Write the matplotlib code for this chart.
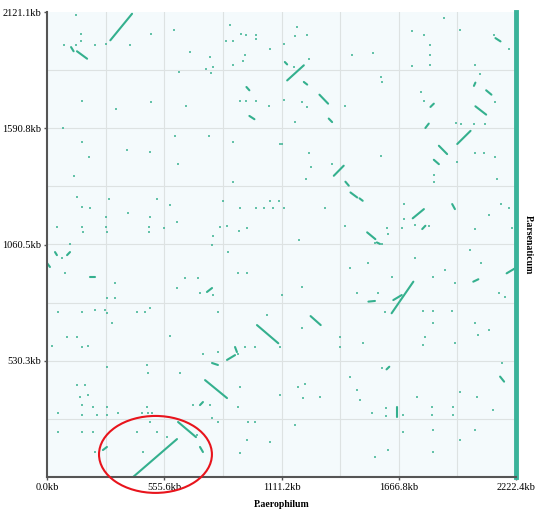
"""
Dot plot of P.aerophilum vs P.arsenaticum genome alignment.
Segments and dots are in kb, read off the reference picture.
"""

import matplotlib.pyplot as plt
from matplotlib.patches import Ellipse

x_len = 2222.4  # P.aerophilum, kb
y_len = 2121.1  # P.arsenaticum, kb

x_ticks = [0.0, 555.6, 1111.2, 1666.8, 2222.4]
x_tick_labels = ["0.0kb", "555.6kb", "1111.2kb", "1666.8kb", "2222.4kb"]
y_ticks = [530.3, 1060.5, 1590.8, 2121.1]
y_tick_labels = ["530.3kb", "1060.5kb", "1590.8kb", "2121.1kb"]

# aligned segments: start / end in kb
seg_x0 = [300, 114, 142, 945, 959, 1138, 1127, 1217, 1291, 1335, 2125, 2023, 2081, 2030,
          1817, 1793, 1944, 1857, 1833, 1359, 1414, 1438, 1481, 1733, 1517, 1563, 1778,
          1920, 995, 1249, 1633, 1641, 1523, 2020, 2178, 2147, 1609, 1657, 408, 621, 749,
          725, 853, 891, 782, 758, 0, 38, 95, 204, 265, 725]
seg_y0 = [1992, 1961, 1942, 1779, 1647, 1809, 1893, 1802, 1744, 1635, 2002, 1784, 1764, 1691,
          1688, 1592, 1519, 1511, 1447, 1374, 1347, 1298, 1271, 1180, 1116, 1070, 1131,
          1245, 693, 734, 747, 807, 800, 891, 929, 458, 491, 321, 0, 251, 442,
          328, 534, 593, 520, 844, 976, 1026, 1012, 912, 123, 137]
seg_x1 = [403, 126, 190, 959, 983, 1217, 1138, 1233, 1332, 1351, 2149, 2030, 2106, 2081,
          1833, 1809, 2007, 1896, 1857, 1406, 1430, 1470, 1496, 1786, 1556, 1578, 1793,
          1933, 1096, 1297, 1736, 1681, 1554, 2044, 2218, 2166, 1622, 1657, 616, 706, 853,
          739, 891, 900, 810, 782, 14, 47, 109, 227, 284, 739]
seg_y1 = [2113, 1942, 1908, 1764, 1632, 1878, 1882, 1790, 1703, 1619, 1987, 1799, 1744, 1653,
          1703, 1612, 1579, 1473, 1427, 1420, 1329, 1275, 1260, 1222, 1085, 1063, 1146,
          1222, 610, 693, 891, 830, 803, 902, 952, 435, 503, 275, 173, 182, 360,
          342, 556, 570, 511, 862, 958, 1012, 1026, 912, 137, 114]

# short isolated hits, kb
dot_x = [139, 163, 82, 139, 163, 229, 280, 392, 493, 604, 679, 774, 785, 755, 779, 624,
         869, 921, 943, 988, 988, 848, 880, 940, 929, 880, 1055, 166, 329, 493, 660, 916,
         945, 988, 1051, 76,
         1185, 1177, 1233, 1122, 1240, 1169, 1446, 1544, 1585, 1414, 1122, 1209, 1233, 1730,
         1786, 1817, 1817, 1814, 1730, 1880, 1956, 2030, 2054, 2117, 2188, 1786, 1936, 1962,
         2023, 2075, 1770, 2125, 1588, 1177,
         166, 198, 379, 490, 621, 608, 766, 880, 880, 130, 142, 166, 205, 292, 384, 521, 585,
         281, 487, 47, 166, 281, 482, 482, 553, 616, 834, 822, 853, 909, 948, 787, 111, 1055,
         1098, 988, 1027, 1071, 916, 1106, 284, 171, 782,
         1351, 1225, 1114, 1240, 1122, 1316, 1253, 1585, 1833, 1833, 1944, 2030, 2070, 2122,
         2133, 2188, 2149, 2094, 2204, 1691, 1691, 1683, 1612, 1411, 1196, 1588, 1616, 1746,
         1809, 2030,
         85, 284, 322, 322, 52, 166, 227, 275, 284, 426, 464, 488, 308, 95, 142, 24, 166, 194,
         583, 616, 654, 716, 725, 787, 810, 905, 948, 858, 739, 810, 905, 938, 986, 474, 479,
         630, 284, 142, 180, 156, 194, 218, 237, 284, 284, 166, 166, 52, 474, 479, 450, 498,
         488, 692, 782, 810, 772, 905, 953, 986, 915, 52, 166, 227, 218, 455, 426, 521, 915,
         948, 711, 569, 336, 71,
         1436, 1523, 1554, 1633, 1744, 1827, 1886, 1933, 2004, 2057, 2143, 2170, 1207, 1112,
         1041, 1104, 1207, 1388, 1467, 1570, 1601, 1783, 1827, 1831, 1917, 2028, 2096, 2044,
         1933, 1791, 1783, 1499, 2155, 1436, 1222, 1191, 1214, 1293, 1467, 1483, 1538, 1606,
         1606, 1688, 1752, 1823, 1823, 1925, 1925, 1957, 2036, 2115, 1688, 1831, 1957, 2028,
         1056, 1617, 1554, 1831, 1175, 1104, 1388, 1586]
dot_y = [2106, 2019, 1972, 1969, 1987, 1972, 1974, 1972, 2019, 2037, 1939, 1916, 1870, 1863,
         1844, 1847, 2060, 2022, 2018, 2018, 1999, 1987, 1987, 1926, 1896, 1878, 1951, 1714,
         1680, 1711, 1692, 1714, 1714, 1714, 1691, 1592,
         2053, 2012, 2018, 1977, 1905, 1870, 1926, 1936, 1825, 1691, 1718, 1711, 1688, 2033,
         2018, 1972, 1923, 1878, 1875, 2094, 2037, 1878, 1840, 2018, 1954, 1714, 1615, 1612,
         1612, 1612, 1756, 1711, 1802, 1619,
         1529, 1458, 1493, 1484, 1427, 1554, 1557, 1526, 1347, 1371, 1275, 1230, 1225, 1268,
         1204, 1268, 1240, 1184, 1184, 1139, 1139, 1139, 1139, 1116, 1134, 1161, 1260, 1139,
         1146, 1123, 1134, 1098, 1063, 1260, 1260, 1225, 1225, 1225, 1225, 1519, 1116, 1116,
         1058,
         1427, 1359, 1519, 1478, 1225, 1225, 1412, 1465, 1377, 1344, 1435, 1478, 1478, 1458,
         1359, 1225, 1245, 1195, 1134, 1245, 1177, 1134, 1134, 1146, 1082, 1063, 1108, 1149,
         1146, 1131,
         930, 816, 816, 885, 752, 752, 761, 761, 747, 752, 752, 770, 702, 638, 638, 598, 593,
         598, 643, 862, 908, 908, 839, 830, 752, 930, 930, 1026, 561, 570, 561, 593, 593, 511,
         474, 474, 502, 420, 420, 365, 374, 319, 283, 319, 283, 328, 283, 292, 319, 292, 292,
         292, 251, 328, 269, 251, 328, 319, 251, 251, 411, 205, 205, 114, 205, 114, 205, 205,
         109, 169, 192, 182, 292, 999,
         952, 975, 1066, 914, 997, 911, 944, 883, 1035, 978, 838, 823, 868, 830, 739, 592,
         678, 640, 838, 838, 754, 759, 759, 701, 759, 701, 671, 648, 610, 640, 602, 610, 519,
         458, 424, 412, 359, 367, 397, 351, 291, 313, 279, 283, 367, 321, 283, 321, 283, 389,
         367, 306, 207, 215, 169, 215, 158, 123, 93, 116, 237, 374, 595, 496]

green = '#34b08e'
serif = 'Liberation Serif'

fig = plt.figure()
fig.set_size_inches(5.35, 5.11)
ax = fig.add_axes([47 / 535, 34 / 511, 469 / 535, 465 / 511])
ax.set_facecolor('#f4fafc')
ax.set_xlim(0, x_len)
ax.set_ylim(0, y_len)

# 8 x 8 grid
for i in range(1, 8):
    ax.axvline(x_len * i / 8, color='#dde2e2', lw=0.8, zorder=0)
    ax.axhline(y_len * i / 8, color='#dde2e2', lw=0.8, zorder=0)

for x0, y0, x1, y1 in zip(seg_x0, seg_y0, seg_x1, seg_y1):
    ax.plot([x0, x1], [y0, y1], color=green, lw=1.5, solid_capstyle='round')
ax.plot(dot_x, dot_y, 's', color=green, ms=1.6, mew=0, alpha=0.75)

# right edge bar
ax.plot([x_len, x_len], [0, y_len], color='#3ab39a', lw=3.5, clip_on=False)

for s in ['top', 'right']:
    ax.spines[s].set_visible(False)
for s in ['left', 'bottom']:
    ax.spines[s].set_color('#555555')
    ax.spines[s].set_linewidth(1.5)

ax.set_xticks(x_ticks)
ax.set_xticklabels(x_tick_labels, family=serif, fontsize=7.5)
ax.set_yticks(y_ticks)
ax.set_yticklabels(y_tick_labels, family=serif, fontsize=7.5)
ax.tick_params(length=2.5, width=1, color='#555555', pad=1.5)

ax.text(0.5, -0.05, 'P.aerophilum', transform=ax.transAxes, ha='center', va='top',
        family=serif, fontweight='bold', fontsize=7)
ax.text(1.016, 0.5, 'P.arsenaticum', transform=ax.transAxes, ha='left', va='center',
        rotation=270, family=serif, fontweight='bold', fontsize=7)

ax.add_patch(Ellipse((514, 103), 535, 351, fill=False, edgecolor='#e8141c', lw=1.5,
                     clip_on=False, zorder=5))

plt.savefig('out.png', dpi=100)
